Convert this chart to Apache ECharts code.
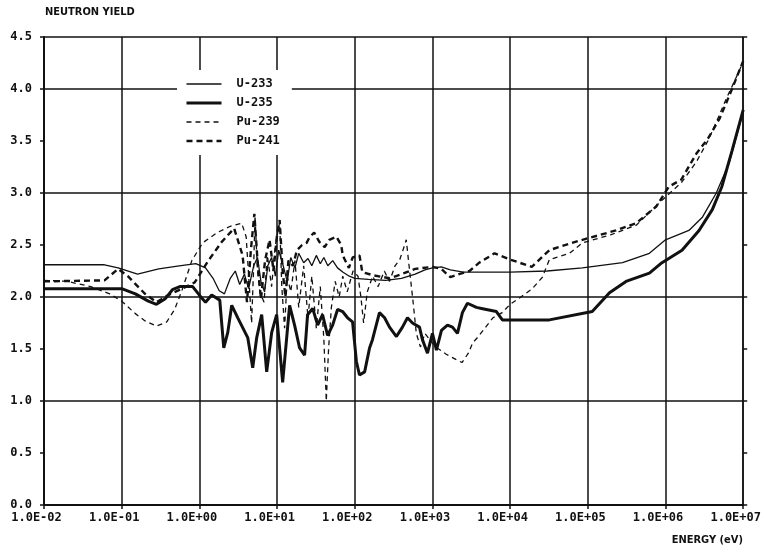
<!DOCTYPE html>
<html><head><meta charset="utf-8">
<script src="https://cdn.jsdelivr.net/npm/echarts@6/dist/echarts.min.js"></script>
<style>html,body{margin:0;padding:0;background:#fff}#c{width:764px;height:552px}</style>
</head><body><div id="c"></div>
<script>
const seriesNames = ['U-233', 'U-235', 'Pu-239', 'Pu-241'];
const xTickLabels = ['1.0E-02','1.0E-01','1.0E+00','1.0E+01','1.0E+02','1.0E+03','1.0E+04','1.0E+05','1.0E+06','1.0E+07'];
const yTickLabels = ['0.0','0.5','1.0','1.5','2.0','2.5','3.0','3.5','4.0','4.5'];

const u233E = [0.01,0.06,0.09,0.16,0.3,0.55,0.9,1.2,1.5,1.8,2.1,2.5,2.9,3.3,3.8,4.3,5.0,5.6,6.2,6.9,7.6,8.5,9.5,10.5,12,13.5,15,17,19,22,25,28,32,36,40,45,52,60,70,85,100,150,250,400,600,800,1000,1300,1700,2500,5000,1e4,3e4,8.5e4,2.8e5,6.2e5,1e6,2e6,3e6,4.5e6,6.6e6,1e7];
const u233Y = [2.31,2.31,2.28,2.22,2.27,2.30,2.32,2.28,2.18,2.06,2.03,2.18,2.25,2.12,2.22,2.08,2.30,2.38,2.15,2.05,2.30,2.38,2.20,2.45,2.30,2.15,2.38,2.28,2.42,2.33,2.37,2.30,2.40,2.32,2.38,2.30,2.35,2.28,2.24,2.20,2.18,2.17,2.16,2.18,2.22,2.26,2.28,2.29,2.26,2.24,2.24,2.24,2.25,2.28,2.33,2.42,2.55,2.64,2.77,3.0,3.29,3.78];

const u235E = [0.01,0.1,0.15,0.22,0.28,0.36,0.45,0.56,0.82,0.95,1.1,1.2,1.44,1.83,2.06,2.32,2.61,3.12,4.19,4.86,5.47,6.34,7.35,8.53,9.88,11.8,13.3,14.5,16.8,19.5,22.6,24.7,28.7,33.3,38.5,44.7,51.9,60.1,69.7,80.8,93.7,105,115,134,155,169,208,242,280,344,411,477,553,681,743,863,1000,1125,1305,1560,1810,2100,2430,2820,3680,4270,6650,7940,3.2e4,1.14e5,1.9e5,3.1e5,6.2e5,9e5,1.63e6,2.7e6,4e6,5.3e6,7.2e6,1e7];
const u235Y = [2.08,2.08,2.03,1.96,1.93,1.98,2.07,2.10,2.10,2.04,1.98,1.95,2.02,1.97,1.51,1.66,1.92,1.80,1.61,1.32,1.61,1.83,1.28,1.66,1.83,1.18,1.61,1.92,1.73,1.51,1.44,1.83,1.89,1.73,1.83,1.63,1.73,1.88,1.86,1.80,1.76,1.38,1.25,1.28,1.51,1.59,1.85,1.80,1.71,1.62,1.71,1.80,1.75,1.71,1.59,1.46,1.65,1.49,1.68,1.73,1.71,1.65,1.85,1.94,1.90,1.89,1.86,1.78,1.78,1.86,2.04,2.15,2.23,2.33,2.45,2.64,2.84,3.06,3.41,3.80];

const pu239E = [0.01,0.02,0.04,0.07,0.1,0.15,0.2,0.28,0.38,0.48,0.6,0.8,1.1,1.7,2.5,3.5,4.0,4.4,4.7,5.0,5.2,5.6,6.0,6.8,7.5,8.5,9.5,10.8,11.5,12.5,13.5,15,17,19,22,25,28,32,36,40,43,46,50,56,63,70,80,95,110,120,130,145,170,200,240,280,330,380,430,460,500,560,620,700,800,900,1100,1500,2000,2400,2900,3300,3800,4500,6000,7900,1e4,1.5e4,1.93e4,2.6e4,3.2e4,5.8e4,8.5e4,2e5,4.2e5,9e5,1.6e6,2.5e6,3.5e6,4.5e6,6e6,8e6,1e7];
const pu239Y = [2.16,2.15,2.10,2.03,1.96,1.84,1.77,1.72,1.76,1.88,2.07,2.35,2.52,2.62,2.68,2.71,2.58,2.10,1.75,2.30,2.78,2.25,2.05,1.95,2.40,2.10,2.50,2.72,2.10,1.70,2.20,2.05,2.35,1.90,2.30,1.80,2.20,1.70,2.10,1.60,1.00,1.50,1.90,2.15,2.00,2.20,2.05,2.25,2.20,2.00,1.75,2.05,2.20,2.10,2.25,2.15,2.30,2.36,2.48,2.55,2.30,1.97,1.65,1.52,1.65,1.60,1.52,1.45,1.40,1.37,1.46,1.56,1.61,1.68,1.80,1.85,1.93,2.02,2.08,2.19,2.36,2.42,2.52,2.60,2.69,2.93,3.10,3.30,3.50,3.68,3.90,4.10,4.26];

const pu241E = [0.01,0.06,0.09,0.12,0.2,0.28,0.4,0.6,0.87,1.28,1.94,2.8,3.6,4.1,4.6,5.1,5.6,6.2,7.0,8.0,9.0,10.0,10.8,11.8,12.8,14,16,18,21,24,26,30,35,41,47,58,67,70,84,94,115,125,170,280,400,600,1000,1300,1700,2200,3000,4000,6300,1e4,1.9e4,3.2e4,4.2e4,8.5e4,2.3e5,4.2e5,7.6e5,1.1e6,1.6e6,2.5e6,3.5e6,5e6,7e6,1e7];
const pu241Y = [2.15,2.16,2.27,2.20,2.03,1.95,2.02,2.08,2.14,2.34,2.53,2.66,2.40,1.95,2.45,2.80,2.35,1.98,2.35,2.55,2.25,2.60,2.74,2.25,2.00,2.35,2.30,2.45,2.50,2.52,2.57,2.62,2.53,2.48,2.55,2.58,2.50,2.40,2.28,2.38,2.40,2.24,2.21,2.18,2.22,2.27,2.29,2.27,2.19,2.22,2.25,2.33,2.42,2.36,2.29,2.45,2.48,2.55,2.64,2.71,2.87,3.06,3.13,3.38,3.52,3.72,3.98,4.27];

const zip = (xs, ys) => xs.map((x, i) => [x, ys[i]]);
const MONO = '"DejaVu Sans Mono", "Liberation Mono", monospace';
const COND = '"DejaVu Sans Condensed", "Liberation Sans Narrow", "DejaVu Sans", sans-serif';
const INK = '#111';

const styles = [
  { width: 1.3, type: 'solid' },
  { width: 3, type: 'solid' },
  { width: 1.3, type: [5, 4] },
  { width: 2.4, type: [6, 4] }
];
const datasets = [zip(u233E, u233Y), zip(u235E, u235Y), zip(pu239E, pu239Y), zip(pu241E, pu241Y)];

const chart = echarts.init(document.getElementById('c'), null, { renderer: 'canvas' });
chart.setOption({
  animation: false,
  backgroundColor: '#fff',
  grid: { left: 44, right: 20, top: 37, bottom: 47 },
  legend: {
    left: 177, top: 70, orient: 'vertical',
    backgroundColor: '#fff', padding: [8, 12, 8, 8],
    itemWidth: 35, itemHeight: 14, itemGap: 7,
    itemStyle: { opacity: 0 },
    textStyle: { fontFamily: MONO, fontWeight: 'bold', fontSize: 12, color: INK, padding: [0, 0, 0, 10] },
    data: seriesNames.map((name, i) => ({
      name, lineStyle: { color: INK, width: styles[i].width, type: styles[i].type }
    }))
  },
  xAxis: {
    type: 'log', logBase: 10, min: 0.01, max: 1e7, splitNumber: 9,
    axisLine: { show: true, lineStyle: { color: INK, width: 2 } },
    axisTick: { show: true, length: 4, lineStyle: { color: INK, width: 1.5 } },
    minorTick: { show: false },
    axisLabel: {
      margin: 7, fontFamily: MONO, fontWeight: 'bold', fontSize: 12, color: INK,
      padding: [0, 15, 0, 0],
      formatter: v => xTickLabels[Math.round(Math.log10(v)) + 2]
    },
    splitLine: { show: true, lineStyle: { color: INK, width: 1.5 } }
  },
  yAxis: [
    {
      type: 'value', min: 0, max: 4.5, interval: 0.5, position: 'left',
      axisLine: { show: true, lineStyle: { color: INK, width: 2 } },
      axisTick: { show: true, length: 4, lineStyle: { color: INK, width: 1.5 } },
      axisLabel: { margin: 12, fontFamily: MONO, fontWeight: 'bold', fontSize: 12, color: INK,
        formatter: v => yTickLabels[Math.round(v * 2)] },
      splitLine: { show: false }
    },
    {
      type: 'value', min: 0, max: 4.5, interval: 0.5, position: 'right',
      axisLine: { show: true, lineStyle: { color: INK, width: 1.5 } },
      axisTick: { show: true, length: 4, inside: false, lineStyle: { color: INK, width: 1.5 } },
      axisLabel: { show: false },
      splitLine: { show: false }
    },
    {
      type: 'value', min: 0, max: 4.5, interval: 1, position: 'left',
      axisLine: { show: false }, axisTick: { show: false }, axisLabel: { show: false },
      splitLine: { show: true, lineStyle: { color: INK, width: 1.5 } }
    }
  ],
  graphic: [
    { type: 'text', left: 45, top: 7, style: { text: 'NEUTRON YIELD', font: 'bold 11px ' + COND, fill: INK } },
    { type: 'text', right: 21, top: 535, style: { text: 'ENERGY (eV)', font: 'bold 11px ' + COND, fill: INK } }
  ],
  series: seriesNames.map((name, i) => ({
    name, type: 'line', yAxisIndex: 0, showSymbol: false, symbol: 'none',
    data: datasets[i],
    lineStyle: { color: INK, width: styles[i].width, type: styles[i].type },
    itemStyle: { color: INK },
    z: 3
  }))
});
</script></body></html>
